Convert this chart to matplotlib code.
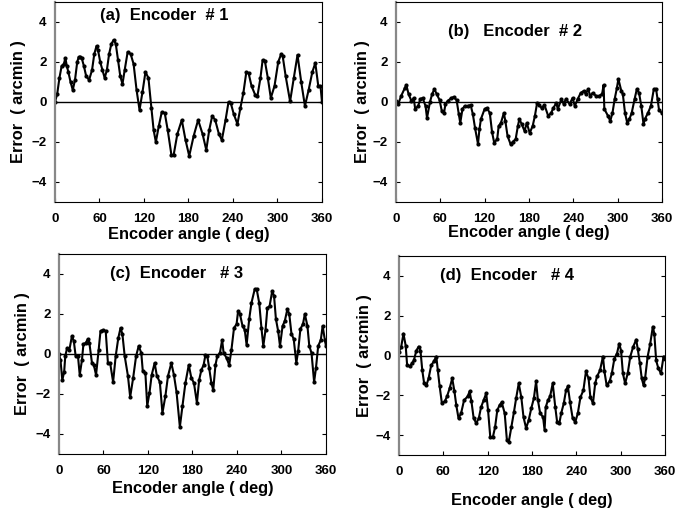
import matplotlib
matplotlib.use("Agg")
import matplotlib.pyplot as plt

plt.rcParams['font.family'] = ['Liberation Sans', 'DejaVu Sans']
plt.rcParams['font.weight'] = 'bold'

# Encoder #1
deg_a = [0, 3, 6, 9, 12, 14, 16, 18, 21, 24, 27, 30, 32, 34, 36, 39, 42, 46, 50, 53,
         56, 58, 61, 64, 67, 70, 73, 76, 79, 82, 85, 88, 91, 94, 98, 102, 106, 110, 114, 118,
         122, 126, 130, 133, 136, 140, 144, 148, 152, 157, 160, 165, 171, 176, 181, 187, 193, 199, 204, 208,
         212, 216, 221, 225, 230, 234, 237, 241, 246, 250, 254, 258, 261, 265, 270, 273, 277, 280, 283, 287,
         291, 296, 301, 305, 307, 311, 317, 322, 327, 332, 337, 342, 347, 351, 355, 358, 360]
err_a = [0.0, 0.4, 1.2, 1.8, 1.9, 2.2, 1.8, 1.5, 1.0, 0.6, 1.1, 2.0, 2.25, 2.25, 2.2, 1.8, 1.3, 1.1, 1.6, 2.4,
         2.8, 2.6, 2.0, 1.6, 1.2, 1.6, 2.4, 2.9, 3.1, 2.9, 2.1, 1.3, 0.9, 1.6, 2.5, 2.4, 1.9, 0.6, -0.4, 0.5,
         1.5, 1.2, -0.3, -1.4, -2.0, -1.2, -0.5, -0.55, -1.4, -2.65, -2.65, -1.6, -0.9, -1.9, -2.7, -1.7, -0.9, -1.6, -2.4, -1.4,
         -0.7, -0.9, -1.6, -1.9, -0.9, 0.0, -0.05, -0.6, -1.1, -0.3, 0.45, 1.5, 1.45, 0.8, 0.35, 0.3, 1.2, 2.1, 2.05, 1.2,
         0.2, 0.8, 2.0, 2.4, 2.3, 1.3, 0.03, 1.2, 2.35, 1.0, -0.2, 0.6, 1.5, 1.95, 0.8, 0.8, 0.0]

# Encoder #2
deg_b = [0, 3, 7, 12, 14, 17, 21, 24, 26, 30, 33, 36, 40, 42, 46, 49, 52, 55, 59, 62,
         65, 67, 70, 75, 78, 82, 85, 87, 90, 93, 97, 101, 104, 107, 111, 113, 115, 120, 123, 127,
         130, 133, 137, 139, 142, 146, 148, 151, 155, 158, 162, 165, 167, 170, 174, 177, 181, 185, 188, 191,
         194, 197, 201, 206, 210, 213, 217, 219, 224, 227, 230, 235, 239, 242, 246, 250, 254, 257, 260, 263,
         266, 271, 275, 279, 281, 282, 287, 290, 293, 296, 299, 301, 305, 307, 310, 313, 316, 319, 323, 326,
         329, 332, 335, 337, 341, 345, 349, 352, 354, 356, 360]
err_b = [0.05, -0.1, 0.3, 0.7, 0.85, 0.4, 0.05, 0.2, -0.35, -0.2, 0.15, 0.2, -0.2, -0.8, 0.0, 0.4, 0.65, 0.4, 0.1, -0.45,
         -0.55, -0.1, 0.05, 0.2, 0.25, 0.1, -0.6, -1.05, -0.35, -0.2, -0.2, -0.15, -0.6, -1.3, -2.1, -1.35, -0.85, -0.35, -0.3, -0.55,
         -1.5, -2.05, -1.85, -1.2, -1.05, -0.55, -0.95, -1.7, -2.1, -2.0, -1.85, -1.2, -0.85, -1.1, -1.45, -1.05, -1.55, -1.2, -0.7, -0.05,
         -0.15, -0.3, -0.15, -0.7, -0.55, -0.3, -0.05, -0.35, 0.15, -0.1, 0.15, -0.1, 0.2, -0.2, 0.15, 0.45, 0.55, 0.4, 0.65, 0.3,
         0.45, 0.3, 0.3, 0.4, 0.85, -0.35, -0.7, -0.95, -0.55, 0.15, 0.7, 1.15, 0.55, 0.4, -0.55, -1.05, -0.85, -0.55, 0.15, 0.65,
         0.45, -0.2, -1.1, -0.85, -0.55, -0.2, 0.65, 0.65, 0.15, -0.4, -0.55]

# Encoder #3
deg_c = [0, 2, 4.5, 7, 8.5, 11, 14, 17.5, 20, 22.5, 25.6, 28, 31, 33, 36, 39, 41, 44.5, 47, 50,
         53.5, 56, 60, 63, 66, 69, 73, 76.5, 80, 83, 85.5, 88.6, 93, 96, 100, 104, 107.5, 111, 113, 116.5,
         119, 122, 125, 129, 132, 136, 139.5, 143.5, 147, 151.5, 155, 158.5, 163, 166.5, 170.5, 175, 178.5, 182, 186, 189,
         192, 195, 197.5, 200, 202.5, 205.5, 208, 211, 213.5, 217, 220, 222, 226, 229.5, 232.5, 236, 239.5, 241.5, 244, 247.5,
         250.5, 253, 256.5, 259.5, 264, 266.5, 270, 273, 275.5, 278.5, 281, 284, 287.5, 290, 292.5, 295.5, 298, 301.5, 304.5, 308,
         310.5, 313.5, 316.5, 320, 322.5, 325.5, 329, 331.5, 335, 337.5, 340.5, 344, 346.5, 349.5, 353, 355.5, 358.5, 360]
err_c = [0.0, -0.3, -1.3, -0.9, -0.1, 0.3, 0.2, 0.9, 0.65, -0.1, -0.1, -1.05, -0.3, 0.5, 0.55, 0.75, 0.55, -0.45, -0.55, -1.05,
         0.2, 1.15, 1.2, 1.15, -0.45, -0.45, -1.4, -0.1, 0.8, 1.3, 1.0, -0.1, -1.1, -2.15, -1.2, -0.1, 0.4, 0.05, -0.85, -0.95,
         -2.6, -1.95, -1.05, -0.45, -1.1, -1.4, -2.95, -2.1, -1.1, -0.45, -1.05, -1.9, -3.65, -2.6, -1.45, -0.55, -1.2, -1.45, -2.45, -1.3,
         -0.8, -0.55, -0.05, -0.1, -0.7, -1.45, -1.8, -0.55, -0.1, 0.05, 0.7, 0.05, -0.2, -0.55, 0.2, 1.3, 1.5, 2.15, 2.0, 1.4,
         1.2, 0.45, 1.75, 2.55, 3.25, 3.25, 2.55, 1.3, 0.4, 1.2, 2.3, 2.4, 3.15, 2.9, 1.75, 1.15, 0.4, 1.4, 1.65, 2.25,
         2.0, 1.0, 0.75, -0.45, 0.15, 1.25, 1.5, 2.0, 1.4, 0.4, 0.05, -1.4, -0.7, 0.4, 0.7, 1.4, 0.7, 0.4]

# Encoder #4
deg_d = [0, 3, 6, 9, 11, 14.5, 17.5, 20, 23.5, 26.5, 29, 31.5, 34, 37, 40, 43.5, 47, 50.5, 52.5, 55,
         58, 62, 65, 68.5, 72, 75, 77.5, 80.5, 84, 88, 93, 95.5, 98, 101, 104.5, 108, 111, 114.5, 118, 120.5,
         123.5, 127, 130, 133, 136, 139, 143, 146, 148.5, 152, 155.5, 158.5, 162, 165.5, 168.5, 172, 175.5, 179, 182.5, 185.5,
         188, 191, 195, 197, 198.5, 201.5, 204.5, 208, 211.5, 214, 217, 219.5, 223, 226, 228.5, 231.5, 235, 238.5, 242, 245.5,
         249.5, 253, 256.5, 259, 262.5, 265.5, 268, 272, 276, 278, 281, 285, 288, 291.5, 295, 298, 300.5, 303, 306, 309.5,
         313, 317, 321, 323, 326, 328.5, 331, 333, 336.5, 340, 343.5, 345.5, 348, 351, 354.5, 358, 360]
err_d = [0.2, 0.45, 1.1, 0.5, -0.5, -0.55, -0.4, -0.25, 0.25, 0.45, 0.25, -0.75, -1.4, -1.5, -1.15, -0.5, -0.3, -0.05, -0.75, -1.55,
         -2.4, -2.3, -2.05, -1.65, -1.15, -1.8, -2.5, -3.15, -2.9, -2.25, -2.05, -1.8, -2.3, -3.15, -3.4, -3.15, -2.6, -2.25, -1.9, -2.75,
         -4.1, -4.1, -3.6, -2.75, -2.5, -2.35, -2.9, -4.25, -4.35, -3.6, -2.85, -2.15, -1.4, -2.1, -3.1, -3.65, -3.25, -2.65, -2.15, -1.3,
         -2.25, -2.9, -3.1, -3.75, -2.6, -2.25, -2.05, -1.4, -2.6, -3.35, -3.4, -2.9, -2.4, -1.75, -1.55, -2.35, -3.15, -3.35, -2.9, -2.1,
         -1.75, -0.8, -1.15, -2.1, -2.4, -1.4, -1.05, -0.75, -0.05, -0.8, -1.5, -1.3, -0.9, -0.15, 0.1, 0.6, 0.25, -0.9, -1.4, -0.9,
         -0.05, 0.45, 0.8, 0.35, -0.4, -1.15, -1.5, -1.15, -0.05, 0.6, 1.45, 1.1, -0.25, -0.65, -0.9, -0.05, -0.15]

titles = ['(a)  Encoder  # 1', '(b)   Encoder  # 2', '(c)  Encoder   # 3', '(d)  Encoder   # 4']
xticks = [0, 60, 120, 180, 240, 300, 360]
yticks = [-4, -2, 0, 2, 4]

fig = plt.figure(figsize=(6.77, 5.08), dpi=100)
rects = [[0.0812, 0.6024, 0.3944, 0.3937],
         [0.5849, 0.6024, 0.3929, 0.3937],
         [0.0871, 0.1063, 0.3944, 0.3937],
         [0.5894, 0.1043, 0.3929, 0.3917]]
title_pos = [(0.17, 0.93), (0.195, 0.85), (0.19, 0.90), (0.154, 0.90)]
xlab_y = [-0.165, -0.155, -0.175, -0.23]
ylab_x = [-0.138, -0.125, -0.138, -0.128]

series = [(deg_a, err_a), (deg_b, err_b), (deg_c, err_c), (deg_d, err_d)]

for i, (x, y) in enumerate(series):
    ax = fig.add_axes(rects[i])
    ax.axhline(0, color='black', lw=1.0)
    ax.plot(x, y, color='black', lw=1.5, marker='o', ms=2.0)
    ax.set_xlim(0, 360)
    ax.set_ylim(-5, 5)
    ax.set_xticks(xticks)
    ax.set_yticks(yticks)
    ax.tick_params(direction='in', length=3, labelsize=9.5, right=True)
    ax.tick_params(axis='x', pad=8)
    ax.tick_params(axis='y', pad=6)
    ax.spines['left'].set_color('#888888')
    ax.spines['left'].set_linewidth(1.6)
    for s in ['top', 'right', 'bottom']:
        ax.spines[s].set_linewidth(0.8)
    ax.set_xlabel('Encoder angle ( deg)', fontsize=11.8, fontweight='bold', va='center')
    ax.set_ylabel('Error  ( arcmin )', fontsize=11.8, fontweight='bold', va='center')
    ax.xaxis.set_label_coords(0.5, xlab_y[i])
    ax.yaxis.set_label_coords(ylab_x[i], 0.5)
    ax.text(title_pos[i][0], title_pos[i][1], titles[i], transform=ax.transAxes,
            fontsize=12, fontweight='bold', va='center', ha='left')

fig.savefig('out.png', dpi=100)
